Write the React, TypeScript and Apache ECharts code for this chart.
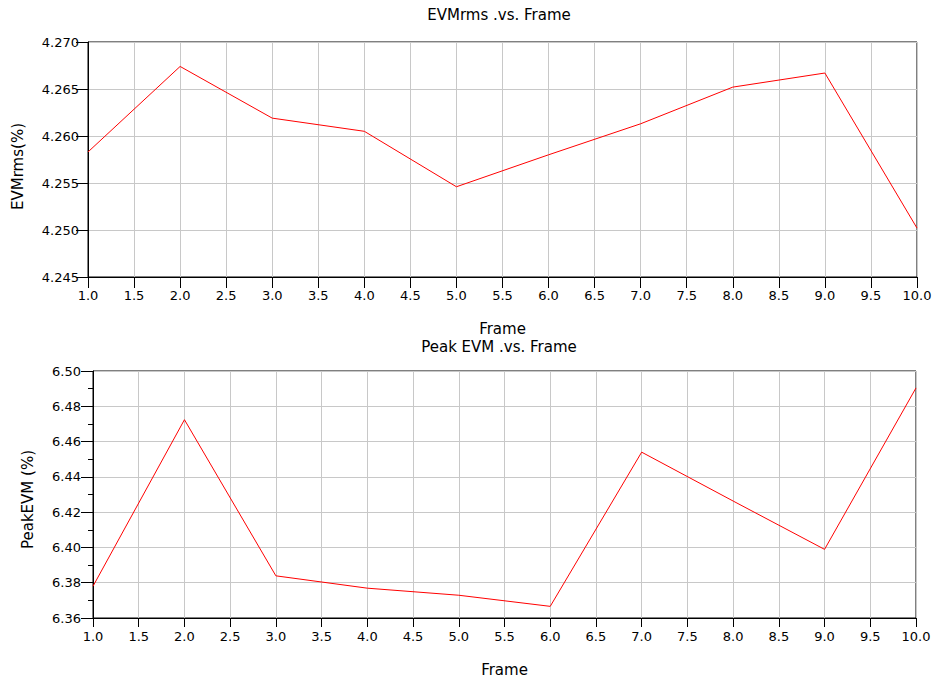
import React, { useEffect, useRef } from "react";
import * as echarts from "echarts";

const frames = [1, 2, 3, 4, 5, 6, 7, 8, 9, 10];
const evmRms = [4.2583, 4.2674, 4.2619, 4.2605, 4.2546, 4.258, 4.2613, 4.2652, 4.2667, 4.2502];
const peakEvm = [6.378, 6.4724, 6.3839, 6.3769, 6.3729, 6.3666, 6.454, 6.4263, 6.3989, 6.4904];

const topTitle = "EVMrms .vs. Frame";
const bottomTitle = "Peak EVM .vs. Frame";
const xName = "Frame";
const topYName = "EVMrms(%)";
const bottomYName = "PeakEVM (%)";

const FONT = "DejaVu Sans";
const tickFont = { fontFamily: FONT, fontSize: 13, color: "#000" };
const nameFont = { fontFamily: FONT, fontSize: 15, color: "#000" };

export default function App() {
  const ref = useRef<HTMLDivElement>(null);
  useEffect(() => {
    if (!ref.current) return;
    const chart = echarts.init(ref.current, undefined, { renderer: "svg" });
    const xAxisBase = (gridIndex: number, tickLen: number) => ({
      type: "value" as const,
      gridIndex,
      min: 1,
      max: 10,
      interval: 0.5,
      name: xName,
      nameLocation: "middle" as const,
      nameGap: 44,
      nameTextStyle: { ...nameFont, lineHeight: 15 },
      axisLine: { show: true, lineStyle: { color: "#000", width: 1 } },
      axisTick: { show: true, length: tickLen, inside: false, lineStyle: { color: "#000" } },
      axisLabel: {
        ...tickFont,
        margin: 12,
        showMaxLabel: true,
        showMinLabel: true,
        formatter: (v: number) => v.toFixed(1),
      },
      splitLine: { show: true, lineStyle: { color: "#c8c8c8", width: 1 } },
    });
    const mkLine = (data: number[], idx: number) => ({
      type: "line" as const,
      xAxisIndex: idx,
      yAxisIndex: idx,
      data: frames.map((f, i) => [f, data[i]]),
      showSymbol: false,
      symbol: "none",
      lineStyle: { color: "#ff0000", width: 1 },
      itemStyle: { color: "#ff0000" },
    });
    chart.setOption({
      animation: false,
      backgroundColor: "#fff",
      title: [
        {
          text: topTitle,
          left: 499,
          top: 7,
          textAlign: "center",
          padding: 0,
          textStyle: { ...nameFont, fontWeight: "normal", lineHeight: 16 },
        },
        {
          text: bottomTitle,
          left: 499,
          top: 339,
          textAlign: "center",
          padding: 0,
          textStyle: { ...nameFont, fontWeight: "normal", lineHeight: 16 },
        },
      ],
      grid: [
        { left: 88, top: 42, width: 829, height: 235, show: true, borderColor: "#000", borderWidth: 1, backgroundColor: "transparent", containLabel: false, outerBoundsMode: "none" },
        { left: 93, top: 371, width: 823, height: 247, show: true, borderColor: "#000", borderWidth: 1, backgroundColor: "transparent", containLabel: false, outerBoundsMode: "none" },
      ],
      xAxis: [xAxisBase(0, 11), xAxisBase(1, 9)],
      yAxis: [
        {
          type: "value",
          gridIndex: 0,
          min: 4.245,
          max: 4.27,
          interval: 0.005,
          name: topYName,
          nameLocation: "middle",
          nameGap: 63,
          nameTextStyle: { ...nameFont, padding: [0, 14, 0, 0] },
          axisLine: { show: true, lineStyle: { color: "#000" } },
          axisTick: { show: true, length: 12, lineStyle: { color: "#000" } },
          axisLabel: {
            ...tickFont,
            margin: 9,
            verticalAlign: "middle",
            padding: [0, 0, 7, 0],
            formatter: (v: number) => v.toFixed(3),
          },
          splitLine: { show: true, lineStyle: { color: "#c8c8c8", width: 1 } },
        },
        {
          type: "value",
          gridIndex: 1,
          min: 6.36,
          max: 6.5,
          interval: 0.02,
          name: bottomYName,
          nameLocation: "middle",
          nameGap: 58,
          nameTextStyle: { ...nameFont, padding: [0, 10, 0, 0] },
          axisLine: { show: true, lineStyle: { color: "#000" } },
          axisTick: { show: true, length: 12, lineStyle: { color: "#000" } },
          minorTick: { show: true, splitNumber: 2, length: 5, lineStyle: { color: "#000" } },
          axisLabel: {
            ...tickFont,
            margin: 12,
            verticalAlign: "middle",
            padding: [0, 0, 5, 0],
            formatter: (v: number) => v.toFixed(2),
          },
          splitLine: { show: true, lineStyle: { color: "#c8c8c8", width: 1 } },
        },
      ],
      series: [mkLine(evmRms, 0), mkLine(peakEvm, 1)],
    });
    return () => chart.dispose();
  }, []);
  return (
    <div
      ref={ref}
      style={{ position: "fixed", left: 0, top: 0, width: 938, height: 679, overflow: "hidden", background: "#fff" }}
    />
  );
}
